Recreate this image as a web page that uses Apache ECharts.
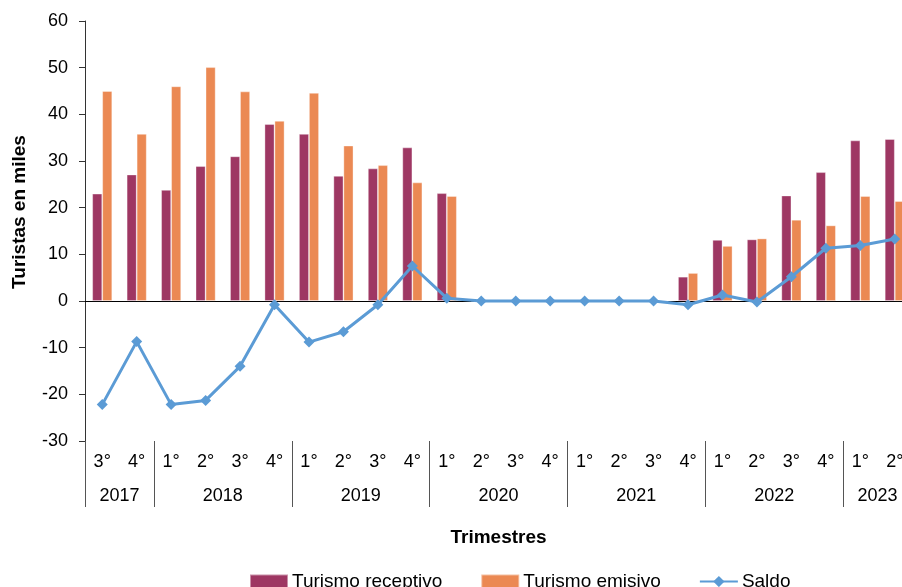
<!DOCTYPE html>
<html>
<head>
<meta charset="utf-8">
<script src="https://cdn.jsdelivr.net/npm/echarts@6/dist/echarts.min.js"></script>
<style>
html,body{margin:0;padding:0;background:#fff;}
#chart{width:902px;height:587px;}
</style>
</head>
<body>
<div id="chart"></div>
<script>
// ---- data ----
var quarters = ['3°','4°','1°','2°','3°','4°','1°','2°','3°','4°','1°','2°','3°','4°','1°','2°','3°','4°','1°','2°','3°','4°','1°','2°'];
var years = ['2017','2018','2019','2020','2021','2022','2023'];
var quartersPerYear = [2, 4, 4, 4, 4, 4, 2];
var receptivo = [23.0, 27.1, 23.8, 28.9, 31.0, 37.9, 35.8, 26.8, 28.4, 32.9, 23.1, 0, 0, 0, 0, 0, 0, 5.2, 13.1, 13.2, 22.6, 27.6, 34.4, 34.7];
var emisivo   = [45.0, 35.8, 46.0, 50.1, 44.9, 38.6, 44.6, 33.3, 29.1, 25.4, 22.5, 0, 0, 0, 0, 0, 0, 6.0, 11.8, 13.4, 17.4, 16.2, 22.5, 21.4];
var saldo     = [-22.2, -8.7, -22.2, -21.3, -14.0, -0.8, -8.8, -6.6, -0.8, 7.5, 0.6, 0, 0, 0, 0, 0, 0, -0.8, 1.3, -0.2, 5.2, 11.3, 11.9, 13.3];

// half-slot axis for year labels and separators (boundaries of quarters)
var halfSlots = [];
var yearLabelIdx = {};
var sepIdx = {0: true};
var pos = 0;
for (var y = 0; y < years.length; y++) {
  var start = pos, end = pos + quartersPerYear[y];
  yearLabelIdx[start + end] = years[y];
  sepIdx[2 * end] = true;
  pos = end;
}
for (var i = 0; i <= 2 * quarters.length; i++) {
  halfSlots.push(yearLabelIdx[i] || '');
}

var FONT = 'Liberation Sans, Arial, Helvetica, sans-serif';
var chart = echarts.init(document.getElementById('chart'), null, {renderer: 'canvas'});
var option = {
  animation: false,
  textStyle: {fontFamily: FONT},
  grid: {left: 85, width: 827, top: 21, bottom: 146, containLabel: false, outerBoundsMode: 'none'},
  legend: {
    left: 244, top: 567,
    itemWidth: 38, itemHeight: 14, itemGap: 38,
    textStyle: {fontSize: 19, color: '#000', fontFamily: FONT, padding: [0, 0, 0, -1]},
    data: [
      {name: 'Turismo receptivo', icon: 'rect'},
      {name: 'Turismo emisivo', icon: 'rect'},
      {name: 'Saldo'}
    ]
  },
  xAxis: [
    {
      type: 'category', data: quarters, position: 'bottom',
      axisLine: {show: true, onZero: true, lineStyle: {color: '#000', width: 1}},
      axisTick: {show: false}, axisLabel: {show: false}, splitLine: {show: false}
    },
    {
      type: 'category', data: quarters, position: 'bottom',
      axisLine: {show: false, onZero: false}, axisTick: {show: false},
      axisLabel: {show: true, interval: 0, margin: 12, fontSize: 18, color: '#000', fontFamily: FONT},
      name: 'Trimestres', nameLocation: 'middle', nameGap: 87,
      nameTextStyle: {fontSize: 19, fontWeight: 'bold', color: '#000', fontFamily: FONT}
    },
    {
      type: 'category', data: halfSlots, position: 'bottom', boundaryGap: false,
      axisLine: {show: false, onZero: false},
      axisTick: {show: true, inside: false, length: 66, interval: function (idx) { return !!sepIdx[idx]; },
                 lineStyle: {color: '#555', width: 1}},
      axisLabel: {show: true, interval: 0, margin: 46, fontSize: 18, color: '#000', fontFamily: FONT}
    }
  ],
  yAxis: {
    type: 'value', min: -30, max: 60, interval: 10,
    axisLine: {show: true, lineStyle: {color: '#333', width: 1}},
    axisTick: {show: true, inside: false, length: 6, lineStyle: {color: '#333'}},
    axisLabel: {margin: 17, fontSize: 18, color: '#000', fontFamily: FONT},
    splitLine: {show: false}
  },
  graphic: [{
    type: 'text', x: 20, y: 212, rotation: Math.PI / 2,
    style: {text: 'Turistas en miles', fill: '#000', font: 'bold 19px ' + FONT,
            align: 'center', verticalAlign: 'middle', textAlign: 'center', textVerticalAlign: 'middle'}
  }],
  series: [
    {
      name: 'Turismo receptivo', type: 'bar', xAxisIndex: 0, data: receptivo,
      barWidth: 10, barGap: '0%',
      itemStyle: {color: '#9E3763', borderColor: 'rgba(255,255,255,0.45)', borderWidth: 0.8}
    },
    {
      name: 'Turismo emisivo', type: 'bar', xAxisIndex: 0, data: emisivo,
      barWidth: 10, barGap: '0%',
      itemStyle: {color: '#EB8953', borderColor: 'rgba(255,255,255,0.45)', borderWidth: 0.8}
    },
    {
      name: 'Saldo', type: 'line', xAxisIndex: 0, data: saldo,
      symbol: 'diamond', symbolSize: 11, showSymbol: true,
      lineStyle: {color: '#5B9BD5', width: 3},
      itemStyle: {color: '#5B9BD5'}
    }
  ]
};
chart.setOption(option);
</script>
</body>
</html>
